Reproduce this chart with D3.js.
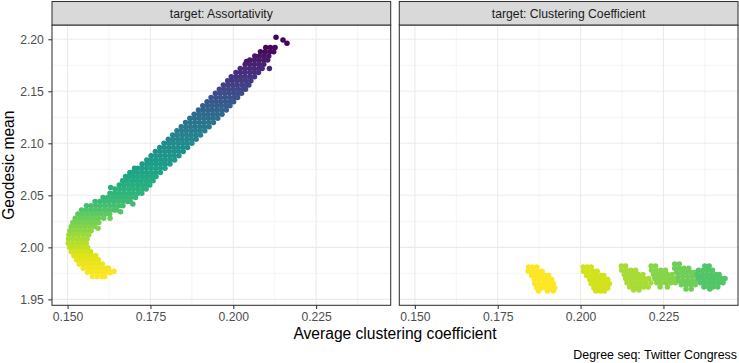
<!DOCTYPE html>
<html>
<head>
<meta charset="utf-8">
<script src="https://cdn.jsdelivr.net/npm/d3@7"></script>
<style>
  body { margin: 0; background: #fff; }
  svg { display: block; font-family: "Liberation Sans", Arial, sans-serif; }
</style>
</head>
<body>
<div id="chart"></div>
<script>

// DATA ********************************
var facets = ["target: Assortativity", "target: Clustering Coefficient"];
var xTicks = [0.150, 0.175, 0.200, 0.225];
var yTicks = [1.95, 2.00, 2.05, 2.10, 2.15, 2.20];
var xDomain = [0.1453, 0.2475];
var yDomain = [1.9443, 2.2137];
var stepDomain = [100, 0];

// rows: [geodesic mean, step, [avg clustering ...]]
var assortRows = [
  [2.2019, 99, [0.2129]],
  [2.1993, 99, [0.2150]],
  [2.1962, 99, [0.2162]],
  [2.192, 99, [0.2098, 0.2112, 0.2126]],
  [2.188, 97, [0.2082, 0.2096, 0.2110, 0.2122]],
  [2.184, 95, [0.2065, 0.2079, 0.2093, 0.2107]],
  [2.180, 93, [0.2050, 0.2064, 0.2078, 0.2092, 0.2104]],
  [2.1786, 94, [0.2040]],
  [2.176, 91, [0.2036, 0.2050, 0.2064, 0.2078, 0.2092]],
  [2.172, 89, [0.2021, 0.2035, 0.2049, 0.2063, 0.2077, 0.2087, 0.2109]],
  [2.168, 87, [0.2008, 0.2022, 0.2036, 0.2050, 0.2064, 0.2076]],
  [2.164, 85, [0.1994, 0.2008, 0.2022, 0.2036, 0.2050, 0.2064]],
  [2.160, 83, [0.1983, 0.1997, 0.2011, 0.2025, 0.2039, 0.2053]],
  [2.156, 81, [0.1970, 0.1984, 0.1998, 0.2012, 0.2026, 0.2040, 0.2047]],
  [2.152, 79, [0.1958, 0.1972, 0.1986, 0.2000, 0.2014, 0.2028, 0.2037]],
  [2.148, 77, [0.1946, 0.1960, 0.1974, 0.1988, 0.2002, 0.2016, 0.2025]],
  [2.144, 75, [0.1933, 0.1947, 0.1961, 0.1975, 0.1989, 0.2003, 0.2013]],
  [2.140, 73, [0.1921, 0.1935, 0.1949, 0.1963, 0.1977, 0.1991, 0.2001]],
  [2.136, 71, [0.1908, 0.1922, 0.1936, 0.1950, 0.1964, 0.1978, 0.1990]],
  [2.132, 69, [0.1895, 0.1909, 0.1923, 0.1937, 0.1951, 0.1965, 0.1979]],
  [2.128, 66, [0.1882, 0.1896, 0.1910, 0.1924, 0.1938, 0.1952, 0.1966]],
  [2.124, 64, [0.1869, 0.1883, 0.1897, 0.1911, 0.1925, 0.1939, 0.1953]],
  [2.120, 62, [0.1856, 0.1870, 0.1884, 0.1898, 0.1912, 0.1926, 0.1940]],
  [2.116, 60, [0.1843, 0.1857, 0.1871, 0.1885, 0.1899, 0.1913, 0.1927]],
  [2.112, 58, [0.1830, 0.1844, 0.1858, 0.1872, 0.1886, 0.1900, 0.1914]],
  [2.108, 56, [0.1817, 0.1831, 0.1845, 0.1859, 0.1873, 0.1887, 0.1901]],
  [2.104, 54, [0.1804, 0.1818, 0.1832, 0.1846, 0.1860, 0.1874, 0.1888]],
  [2.100, 52, [0.1791, 0.1805, 0.1819, 0.1833, 0.1847, 0.1861, 0.1875]],
  [2.096, 51, [0.1778, 0.1792, 0.1806, 0.1820, 0.1834, 0.1848, 0.1862]],
  [2.092, 49, [0.1765, 0.1779, 0.1793, 0.1807, 0.1821, 0.1835, 0.1849]],
  [2.088, 48, [0.1752, 0.1766, 0.1780, 0.1794, 0.1808, 0.1822, 0.1836]],
  [2.084, 46, [0.1739, 0.1753, 0.1767, 0.1781, 0.1795, 0.1809, 0.1823]],
  [2.080, 45, [0.1725, 0.1739, 0.1753, 0.1767, 0.1781, 0.1795, 0.1809]],
  [2.076, 43, [0.1702, 0.1712, 0.1724, 0.1738, 0.1752, 0.1766, 0.1780, 0.1794]],
  [2.072, 42, [0.1688, 0.1698, 0.1710, 0.1724, 0.1738, 0.1752, 0.1766, 0.1780]],
  [2.068, 40, [0.1675, 0.1685, 0.1699, 0.1713, 0.1727, 0.1741, 0.1755, 0.1767]],
  [2.064, 39, [0.1666, 0.1680, 0.1694, 0.1708, 0.1722, 0.1736, 0.1750, 0.1758]],
  [2.060, 38, [0.1656, 0.1670, 0.1684, 0.1698, 0.1712, 0.1726, 0.1740, 0.1748]],
  [2.0576, 37, [0.1630]],
  [2.056, 36, [0.1643, 0.1657, 0.1671, 0.1685, 0.1699, 0.1713, 0.1727, 0.1737]],
  [2.052, 35, [0.1628, 0.1642, 0.1656, 0.1670, 0.1684, 0.1698, 0.1712, 0.1724]],
  [2.048, 33, [0.1607, 0.1621, 0.1635, 0.1649, 0.1663, 0.1677, 0.1691, 0.1705]],
  [2.044, 32, [0.1583, 0.1597, 0.1611, 0.1625, 0.1639, 0.1653, 0.1667, 0.1681, 0.1689]],
  [2.0416, 31, [0.1697]],
  [2.040, 30, [0.1557, 0.1571, 0.1585, 0.1599, 0.1613, 0.1627, 0.1641, 0.1655, 0.1667]],
  [2.036, 28, [0.1542, 0.1556, 0.1570, 0.1584, 0.1598, 0.1612, 0.1626, 0.1640, 0.1648]],
  [2.0342, 27, [0.1660]],
  [2.032, 25, [0.1531, 0.1545, 0.1559, 0.1573, 0.1587, 0.1601, 0.1615, 0.1627]],
  [2.028, 23, [0.1523, 0.1537, 0.1551, 0.1565, 0.1579, 0.1593, 0.1609, 0.1628]],
  [2.024, 21, [0.1516, 0.1530, 0.1544, 0.1558, 0.1572, 0.1586, 0.1594]],
  [2.020, 19, [0.1511, 0.1525, 0.1539, 0.1553, 0.1567, 0.1581]],
  [2.0184, 18, [0.1592]],
  [2.016, 17, [0.1507, 0.1521, 0.1535, 0.1549, 0.1563, 0.1571]],
  [2.012, 15, [0.1504, 0.1518, 0.1532, 0.1546, 0.1560, 0.1564]],
  [2.008, 13, [0.1503, 0.1517, 0.1531, 0.1545, 0.1559]],
  [2.004, 11, [0.1502, 0.1516, 0.1530, 0.1544, 0.1556]],
  [2.000, 9, [0.1506, 0.1520, 0.1534, 0.1548, 0.1560]],
  [1.996, 7, [0.1511, 0.1525, 0.1539, 0.1553, 0.1567, 0.1569]],
  [1.992, 5, [0.1519, 0.1533, 0.1547, 0.1561, 0.1575, 0.1585]],
  [1.988, 4, [0.1527, 0.1541, 0.1555, 0.1569, 0.1583, 0.1593]],
  [1.984, 3, [0.1535, 0.1549, 0.1563, 0.1577, 0.1591, 0.1605]],
  [1.980, 2, [0.1547, 0.1561, 0.1575, 0.1589, 0.1603, 0.1617, 0.1623]],
  [1.976, 1, [0.1560, 0.1574, 0.1588, 0.1602, 0.1616, 0.1630]],
  [1.9770, 0, [0.1640]],
  [1.9755, 0, [0.1628]],
  [1.972, 0, [0.1575, 0.1589, 0.1603, 0.1612]]
];

var clusterRows = [
  // yellow cluster
  [1.981, 0, [0.1843, 0.1855, 0.1868]],
  [1.977, 0, [0.1842, 0.1856, 0.1870, 0.1884]],
  [1.973, 0, [0.1852, 0.1866, 0.1880, 0.1894, 0.1904]],
  [1.969, 0, [0.1860, 0.1874, 0.1888, 0.1902, 0.1913]],
  [1.965, 0, [0.1862, 0.1876, 0.1890, 0.1904, 0.1918]],
  [1.961, 0, [0.1868, 0.1882, 0.1896, 0.1910, 0.1922]],
  [1.958, 0, [0.1873, 0.1900, 0.1918]],
  // second
  [1.981, 7, [0.2008, 0.2020, 0.2032]],
  [1.977, 7, [0.2009, 0.2023, 0.2037, 0.2050]],
  [1.973, 7, [0.2018, 0.2032, 0.2046, 0.2060, 0.2070]],
  [1.969, 7, [0.2028, 0.2042, 0.2056, 0.2070, 0.2082]],
  [1.965, 7, [0.2032, 0.2046, 0.2060, 0.2074, 0.2087]],
  [1.961, 7, [0.2040, 0.2054, 0.2068, 0.2082]],
  [1.958, 7, [0.2046, 0.2060, 0.2072]],
  // third
  [1.982, 13, [0.2123, 0.2136]],
  [1.978, 13, [0.2124, 0.2138, 0.2152, 0.2166]],
  [1.974, 13, [0.2132, 0.2146, 0.2160, 0.2174, 0.2188]],
  [1.970, 13, [0.2136, 0.2150, 0.2164, 0.2178, 0.2192, 0.2206]],
  [1.966, 13, [0.2140, 0.2154, 0.2168, 0.2182, 0.2196, 0.2212]],
  [1.962, 13, [0.2148, 0.2162, 0.2176, 0.2190, 0.2204]],
  [1.959, 13, [0.2160, 0.2176]],
  // fourth
  [1.982, 18, [0.2213, 0.2226]],
  [1.978, 18, [0.2214, 0.2228, 0.2242, 0.2256]],
  [1.974, 18, [0.2220, 0.2234, 0.2248, 0.2262, 0.2276]],
  [1.970, 18, [0.2224, 0.2238, 0.2252, 0.2266, 0.2280, 0.2292]],
  [1.966, 18, [0.2230, 0.2244, 0.2258, 0.2272, 0.2286]],
  [1.962, 18, [0.2240, 0.2262]],
  // fifth
  [1.984, 22, [0.2284, 0.2298]],
  [1.980, 22, [0.2284, 0.2298, 0.2312, 0.2326]],
  [1.976, 22, [0.2290, 0.2304, 0.2318, 0.2332, 0.2346]],
  [1.972, 22, [0.2294, 0.2308, 0.2322, 0.2336, 0.2350, 0.2362]],
  [1.968, 22, [0.2296, 0.2310, 0.2324, 0.2338, 0.2352]],
  [1.964, 22, [0.2304, 0.2318, 0.2332, 0.2346]],
  [1.960, 22, [0.2318, 0.2334]],
  // sixth
  [1.982, 27, [0.2375, 0.2388]],
  [1.978, 27, [0.2356, 0.2370, 0.2384, 0.2398]],
  [1.974, 27, [0.2352, 0.2366, 0.2380, 0.2394, 0.2408, 0.2418]],
  [1.970, 27, [0.2356, 0.2370, 0.2384, 0.2398, 0.2412, 0.2426, 0.2436]],
  [1.966, 27, [0.2362, 0.2376, 0.2390, 0.2404, 0.2418, 0.2430]],
  [1.962, 27, [0.2372, 0.2386, 0.2400, 0.2414]],
  [1.960, 27, [0.2390]]
];

// LAYOUT ********************************
var w = 739, h = 363;
var left = 52, right = 1, gap = 8.6;
var stripTop = 1.5, panelTop = 25, panelBottom = 305.3;
var panelW = (w - left - right - gap) / 2;

var svg = d3.select("#chart").append("svg")
    .attr("width", w)
    .attr("height", h);

var y = d3.scaleLinear().domain(yDomain).range([panelBottom, panelTop]);
var colour = d3.scaleSequential(d3.interpolateViridis).domain(stepDomain);

// minor breaks half way between the majors
function minorBreaks(ticks, domain) {
    var step = ticks[1] - ticks[0];
    var out = [];
    for (var i = -1; i < ticks.length; i++) {
        var v = ticks[0] + step * (i + 0.5);
        if (v > domain[0] && v < domain[1]) out.push(v);
    }
    return out;
}
var xMinor = minorBreaks(xTicks, xDomain);
var yMinor = minorBreaks(yTicks, yDomain);

function flatten(rows) {
    var pts = [];
    rows.forEach(function(r) {
        r[2].forEach(function(xv) { pts.push({x: xv, y: r[0], step: r[1]}); });
    });
    return pts;
}

var panelData = [flatten(assortRows), flatten(clusterRows)];

panelData.forEach(function(points, i) {
    var x0 = left + i * (panelW + gap);
    var x = d3.scaleLinear().domain(xDomain).range([x0, x0 + panelW]);
    var g = svg.append("g");

    // grid
    g.selectAll(".xminor").data(xMinor).enter().append("line")
        .attr("x1", x).attr("x2", x)
        .attr("y1", panelTop).attr("y2", panelBottom)
        .attr("stroke", "#ebebeb").attr("stroke-width", 0.55);
    g.selectAll(".yminor").data(yMinor).enter().append("line")
        .attr("x1", x0).attr("x2", x0 + panelW)
        .attr("y1", y).attr("y2", y)
        .attr("stroke", "#ebebeb").attr("stroke-width", 0.55);
    g.selectAll(".xmajor").data(xTicks).enter().append("line")
        .attr("x1", x).attr("x2", x)
        .attr("y1", panelTop).attr("y2", panelBottom)
        .attr("stroke", "#ebebeb").attr("stroke-width", 1.1);
    g.selectAll(".ymajor").data(yTicks).enter().append("line")
        .attr("x1", x0).attr("x2", x0 + panelW)
        .attr("y1", y).attr("y2", y)
        .attr("stroke", "#ebebeb").attr("stroke-width", 1.1);

    // points
    g.selectAll("circle").data(points).enter().append("circle")
        .attr("cx", function(d) { return x(d.x); })
        .attr("cy", function(d) { return y(d.y); })
        .attr("r", 2.75)
        .attr("fill", function(d) { return colour(d.step); });

    // panel border
    g.append("rect")
        .attr("x", x0).attr("y", panelTop)
        .attr("width", panelW).attr("height", panelBottom - panelTop)
        .attr("fill", "none").attr("stroke", "#333333").attr("stroke-width", 1.05);

    // strip
    g.append("rect")
        .attr("x", x0).attr("y", stripTop)
        .attr("width", panelW).attr("height", panelTop - stripTop)
        .attr("fill", "#d9d9d9").attr("stroke", "#333333").attr("stroke-width", 1.05);
    g.append("text")
        .attr("x", x0 + panelW / 2).attr("y", (stripTop + panelTop) / 2)
        .attr("dy", "0.35em")
        .attr("text-anchor", "middle")
        .attr("fill", "#1a1a1a")
        .style("font-size", "12.2px")
        .text(facets[i]);

    // x axis
    var xAxis = g.append("g")
        .attr("transform", "translate(0," + panelBottom + ")")
        .call(d3.axisBottom(x).tickValues(xTicks).tickSize(3.7).tickPadding(3.0)
            .tickFormat(d3.format(".3f")));
    styleAxis(xAxis);

    if (i === 0) {
        var yAxis = g.append("g")
            .attr("transform", "translate(" + x0 + ",0)")
            .call(d3.axisLeft(y).tickValues(yTicks).tickSize(3.7).tickPadding(4.4)
                .tickFormat(d3.format(".2f")));
        styleAxis(yAxis);
    }
});

function styleAxis(ax) {
    ax.select(".domain").remove();
    ax.selectAll(".tick line").attr("stroke", "#333333").attr("stroke-width", 1.05);
    ax.selectAll(".tick text")
        .attr("fill", "#4d4d4d")
        .style("font-size", "12.2px")
        .style("font-family", "'Liberation Sans', Arial, sans-serif");
}

// titles
svg.append("text")
    .attr("x", left + (w - left - right) / 2)
    .attr("y", 339)
    .attr("text-anchor", "middle")
    .attr("fill", "#000")
    .style("font-size", "15.6px")
    .text("Average clustering coefficient");

svg.append("text")
    .attr("transform", "translate(13.5," + ((panelTop + panelBottom) / 2) + ") rotate(-90)")
    .attr("text-anchor", "middle")
    .attr("fill", "#000")
    .style("font-size", "15.6px")
    .text("Geodesic mean");

svg.append("text")
    .attr("x", w - 2)
    .attr("y", 359)
    .attr("text-anchor", "end")
    .attr("fill", "#000")
    .style("font-size", "12.4px")
    .text("Degree seq: Twitter Congress");

</script>
</body>
</html>
